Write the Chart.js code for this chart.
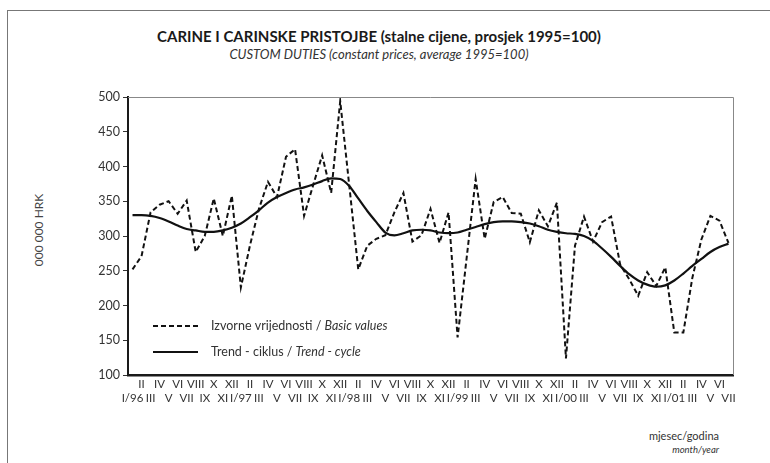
<!DOCTYPE html>
<html lang="hr">
<head>
<meta charset="UTF-8">
<title>Carine i carinske pristojbe</title>
<style>
    body { margin: 0; background: #fff; font-family: Lato, "Open Sans", sans-serif; color: #222; }
    #wrap { position: relative; width: 770px; height: 463px; overflow: hidden; }
    #frame { position: absolute; left: 7px; top: 10px; width: 800px; height: 500px;
             border-top: 1px solid #777; border-left: 1px solid #777; }
    #myChart { position: absolute; left: 0; top: 0; }
    .title { position: absolute; left: 0; width: 758px; text-align: center; }
    #t1 { top: 27px; font-size: 15px; font-weight: bold; color: #1a1a1a; }
    #t2 { top: 46px; font-size: 13px; font-style: italic; color: #333; }
    #ylab { position: absolute; left: 38px; top: 230px; font-size: 12px; color: #444;
            transform: translate(-50%, -50%) rotate(-90deg); white-space: nowrap; }
    #unit1 { position: absolute; right: 51px; top: 429px; font-size: 11px; color: #333; }
    #unit2 { position: absolute; right: 51px; top: 444px; font-size: 9.5px; font-style: italic; color: #333; }
</style>
</head>
<body>
<div id="wrap">
    <div id="frame"></div>
    <div class="title" id="t1">CARINE I CARINSKE PRISTOJBE (stalne cijene, prosjek 1995=100)</div>
    <div class="title" id="t2">CUSTOM DUTIES (constant prices, average 1995=100)</div>
    <div id="ylab">000 000 HRK</div>
    <div id="unit1">mjesec/godina</div>
    <div id="unit2">month/year</div>
    <canvas id="myChart" width="770" height="463"></canvas>
</div>

<script src="https://cdn.jsdelivr.net/npm/chart.js"></script>
<script>
    // mjeseci I/96 - VII/01
    const months = ['I', 'II', 'III', 'IV', 'V', 'VI', 'VII', 'VIII', 'IX', 'X', 'XI', 'XII'];
    const years = ['96', '97', '98', '99', '00', '01'];
    const lastMonthCount = 7; // 2001: I - VII

    // izvorne vrijednosti / basic values
    const basicValues = [
        252, 271, 334, 345, 350, 332, 351, 277, 300, 354, 300, 358,
        226, 286, 339, 378, 356, 414, 425, 329, 373, 416, 362, 494,
        373, 252, 286, 296, 301, 334, 362, 292, 301, 339, 290, 334,
        154, 268, 382, 296, 349, 356, 333, 332, 291, 337, 314, 348,
        124, 286, 328, 292, 320, 328, 259, 238, 214, 248, 228, 255,
        161, 161, 240, 295, 329, 322, 290
    ];

    // trend - ciklus / trend - cycle
    const trendValues = [
        330, 330, 329, 326, 321, 315, 310, 308, 306, 306, 308, 312,
        318, 327, 337, 348, 356, 362, 367, 370, 374, 379, 383, 382,
        372, 354, 336, 320, 305, 301, 304, 308, 309, 308, 305, 304,
        305, 309, 313, 317, 320, 321, 321, 320, 318, 314, 309, 306,
        304, 303, 300, 293, 282, 270, 257, 245, 236, 230, 227, 229,
        236, 246, 257, 267, 277, 284, 289
    ];

    const yMin = 100, yMax = 500, yStep = 50;

    // oznake osi x: I/yy za siječanj, ostalo rimski broj
    const xLabels = [];
    years.forEach((yr, yi) => {
        const n = yi === years.length - 1 ? lastMonthCount : 12;
        for (let m = 0; m < n; m++) {
            xLabels.push(m === 0 ? 'I/' + yr : months[m]);
        }
    });
    // parni indeksi u donjem redu, neparni u gornjem
    const twoRowLabels = xLabels.map((l, i) => i % 2 === 0 ? ['', l] : [l, '']);

    // tanki gornji i desni rub + legenda
    const framePlugin = {
        id: 'frameAndLegend',
        afterDraw(chart) {
            const ctx = chart.ctx;
            const a = chart.chartArea;
            ctx.save();
            ctx.strokeStyle = '#888';
            ctx.lineWidth = 1;
            ctx.beginPath();
            ctx.moveTo(a.left, a.top + 0.5);
            ctx.lineTo(a.right + 0.5, a.top + 0.5);
            ctx.lineTo(a.right + 0.5, a.bottom);
            ctx.stroke();

            // legenda
            const x0 = a.left + 25, x1 = a.left + 70, tx = a.left + 83;
            const rows = [
                { y: a.top + 229, dash: [5, 3], w: 2, plain: 'Izvorne vrijednosti / ', ital: 'Basic values' },
                { y: a.top + 255, dash: [], w: 2.2, plain: 'Trend - ciklus / ', ital: 'Trend - cycle' }
            ];
            rows.forEach(r => {
                ctx.strokeStyle = '#111';
                ctx.lineWidth = r.w;
                ctx.setLineDash(r.dash);
                ctx.beginPath();
                ctx.moveTo(x0, r.y);
                ctx.lineTo(x1, r.y);
                ctx.stroke();
                ctx.setLineDash([]);
                ctx.fillStyle = '#333';
                ctx.textBaseline = 'middle';
                ctx.font = '12.5px Lato, "Open Sans", sans-serif';
                ctx.fillText(r.plain, tx, r.y);
                const w = ctx.measureText(r.plain).width;
                ctx.font = 'italic 12.5px Lato, "Open Sans", sans-serif';
                ctx.fillText(r.ital, tx + w, r.y);
            });
            ctx.restore();
        }
    };

    const ctx = document.getElementById('myChart').getContext('2d');
    const chart = new Chart(ctx, {
        type: 'line',
        data: {
            labels: twoRowLabels,
            datasets: [
                {
                    label: 'Izvorne vrijednosti / Basic values',
                    data: basicValues,
                    borderColor: '#111',
                    borderWidth: 2,
                    borderDash: [5, 3],
                    pointRadius: 0,
                    tension: 0,
                    fill: false
                },
                {
                    label: 'Trend - ciklus / Trend - cycle',
                    data: trendValues,
                    borderColor: '#111',
                    borderWidth: 2.2,
                    pointRadius: 0,
                    cubicInterpolationMode: 'monotone',
                    fill: false
                }
            ]
        },
        options: {
            responsive: false,
            animation: false,
            layout: { padding: { left: 0, top: 97, right: 37, bottom: 0 } },
            plugins: {
                legend: { display: false },
                tooltip: { enabled: false }
            },
            scales: {
                x: {
                    offset: true,
                    grid: { display: false, drawTicks: false },
                    border: { display: true, color: '#1a1a1a', width: 2.5 },
                    ticks: {
                        autoSkip: false,
                        maxRotation: 0,
                        minRotation: 0,
                        padding: 2,
                        color: '#333',
                        font: { family: 'Lato, "Open Sans", sans-serif', size: 11.5, lineHeight: 1.22 }
                    },
                    afterFit(scale) { scale.height = 88; }
                },
                y: {
                    min: yMin,
                    max: yMax,
                    grid: { drawOnChartArea: false, drawTicks: true, tickLength: 5, color: '#333' },
                    border: { display: true, color: '#1a1a1a', width: 2 },
                    ticks: {
                        stepSize: yStep,
                        padding: 3,
                        color: '#333',
                        font: { family: 'Lato, "Open Sans", sans-serif', size: 12.5 }
                    },
                    afterFit(scale) { scale.width = 128; }
                }
            }
        },
        plugins: [framePlugin]
    });
</script>
</body>
</html>
